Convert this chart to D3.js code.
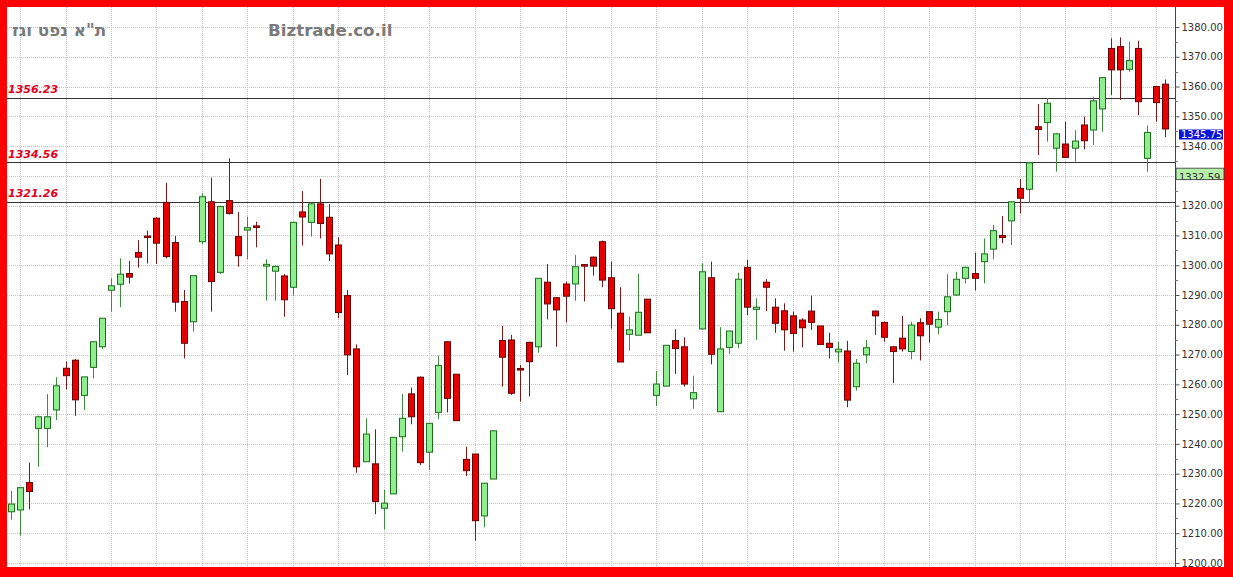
<!DOCTYPE html>
<html><head><meta charset="utf-8">
<script src="https://cdn.jsdelivr.net/npm/d3@7"></script>
<style>html,body{margin:0;padding:0;background:#fff;overflow:hidden}</style>
</head><body><svg id="c" width="1233" height="577"></svg>
<script>
const openV  = [1217.2,1217.8,1227.0,1245.2,1245.2,1251.4,1265.4,1268.1,1256.3,1265.7,1272.6,1291.6,1293.6,1297.2,1304.3,1309.8,1315.8,1321.1,1307.6,1287.8,1281.0,1307.9,1321.3,1297.6,1321.7,1309.6,1311.8,1313.2,1299.7,1298.0,1296.4,1292.6,1317.9,1314.4,1320.6,1316.1,1306.8,1289.8,1271.9,1234.0,1233.3,1218.4,1223.2,1242.4,1256.8,1262.4,1237.2,1250.6,1274.3,1263.4,1234.8,1236.6,1215.8,1228.2,1274.7,1274.9,1265.3,1274.1,1272.6,1294.3,1289.1,1293.7,1293.7,1300.2,1302.7,1307.9,1295.8,1283.9,1276.8,1276.5,1288.6,1256.3,1259.4,1274.7,1272.6,1255.1,1278.6,1295.8,1250.8,1272.4,1273.8,1299.3,1285.2,1294.3,1285.9,1284.7,1283.0,1281.6,1284.6,1279.6,1273.8,1270.9,1271.2,1259.2,1269.9,1284.6,1280.8,1272.6,1275.5,1271.0,1280.7,1284.4,1279.2,1284.4,1290.0,1295.6,1297.2,1301.2,1305.4,1310.0,1314.9,1325.8,1325.5,1346.5,1347.9,1339.3,1340.7,1339.3,1347.1,1345.4,1352.5,1372.8,1373.4,1365.8,1372.8,1335.9,1360.0,1360.8];
const highV  = [1224.2,1225.5,1233.7,1249.5,1256.7,1262.4,1267.6,1268.5,1262.5,1274.3,1282.2,1295.6,1302.3,1301.4,1308.4,1311.6,1316.0,1327.7,1309.8,1291.7,1296.5,1324.2,1329.4,1320.0,1335.9,1317.8,1316.3,1314.6,1302.0,1300.0,1297.0,1314.4,1324.9,1321.0,1329.0,1320.5,1309.4,1291.7,1273.4,1248.6,1244.9,1224.5,1242.2,1256.7,1258.9,1262.6,1247.0,1269.6,1274.5,1263.4,1239.1,1236.6,1226.8,1244.4,1279.6,1276.6,1266.5,1274.3,1295.6,1300.4,1289.3,1294.5,1303.4,1300.3,1303.0,1308.3,1301.2,1292.6,1282.7,1297.1,1288.6,1264.5,1273.1,1278.5,1275.8,1262.9,1300.6,1301.2,1279.2,1277.9,1297.5,1301.8,1288.9,1295.3,1288.9,1287.2,1284.4,1282.2,1289.8,1279.6,1277.3,1274.3,1274.6,1268.5,1274.9,1284.8,1281.0,1272.8,1283.0,1281.0,1282.2,1284.6,1284.4,1297.0,1297.8,1299.5,1304.2,1309.0,1313.5,1316.5,1321.5,1328.9,1334.6,1354.1,1356.1,1344.3,1348.2,1345.4,1349.9,1356.6,1363.2,1376.2,1376.5,1375.1,1375.4,1346.9,1360.2,1362.4];
const lowV   = [1214.5,1209.2,1218.0,1232.3,1238.9,1248.0,1258.3,1249.4,1251.4,1262.0,1271.8,1284.4,1285.9,1293.9,1299.2,1300.6,1300.4,1302.3,1284.4,1268.7,1277.7,1307.0,1284.4,1297.0,1317.0,1299.5,1302.0,1306.0,1288.1,1288.1,1282.7,1289.7,1306.6,1309.6,1309.0,1301.4,1282.2,1263.1,1230.3,1234.0,1216.4,1211.3,1223.2,1237.4,1246.6,1232.9,1231.2,1248.3,1250.6,1247.8,1229.2,1207.5,1212.0,1228.2,1259.2,1256.4,1254.2,1255.9,1270.6,1281.8,1272.6,1280.8,1288.1,1287.8,1296.5,1292.6,1278.7,1267.5,1271.3,1276.5,1277.3,1252.7,1259.4,1263.5,1259.2,1251.8,1278.5,1266.7,1250.7,1270.2,1272.1,1283.3,1274.9,1284.6,1277.3,1271.3,1271.0,1272.4,1278.3,1273.4,1268.7,1267.3,1252.3,1257.9,1267.1,1276.6,1274.3,1260.4,1271.0,1268.4,1268.0,1274.0,1276.8,1279.9,1289.7,1293.9,1291.5,1293.9,1302.0,1307.4,1306.8,1317.4,1321.1,1337.0,1341.5,1331.4,1336.0,1334.8,1338.9,1340.4,1344.8,1357.2,1355.5,1365.0,1350.4,1331.4,1348.2,1343.0];
const closeV = [1219.8,1225.3,1224.0,1249.1,1249.1,1259.5,1262.9,1254.8,1262.5,1274.3,1282.2,1293.1,1297.0,1296.0,1302.7,1309.4,1307.4,1302.9,1287.6,1273.8,1296.5,1323.0,1294.5,1319.7,1317.4,1303.2,1312.6,1312.8,1300.3,1299.6,1288.4,1314.4,1316.2,1320.6,1314.0,1303.8,1284.1,1269.9,1232.3,1243.3,1220.6,1220.1,1242.2,1248.6,1249.1,1233.7,1246.9,1266.3,1255.3,1247.8,1231.0,1214.2,1226.8,1244.4,1269.1,1257.0,1264.9,1267.6,1295.6,1287.0,1285.0,1289.6,1299.5,1299.9,1299.7,1295.0,1285.4,1267.5,1278.3,1284.2,1277.3,1260.1,1273.1,1272.0,1260.1,1257.2,1297.8,1270.1,1271.9,1277.9,1295.3,1285.9,1285.9,1292.6,1280.5,1278.3,1277.1,1279.0,1280.8,1273.4,1272.4,1271.8,1254.7,1267.1,1272.3,1283.0,1275.8,1271.0,1271.9,1279.9,1276.3,1280.2,1281.8,1289.4,1295.3,1299.3,1295.6,1303.8,1311.6,1309.3,1321.3,1322.5,1334.4,1345.6,1354.4,1344.1,1336.2,1341.7,1341.8,1355.2,1363.0,1365.6,1365.6,1368.7,1354.9,1344.6,1354.6,1345.75];
const levels = [1356.23, 1334.56, 1321.26];
const yTicks = d3.range(1200, 1381, 10);
const minorTicks = d3.range(1205, 1381, 10);
const lastPrice = 1345.75;
const secondPrice = 1332.59;
const titleText = 'ת"א נפט וגז';
const brandText = "Biztrade.co.il";

const W = 1233, H = 577;
const svg = d3.select("#c");
const PL = 7, PR = 1175, PT = 7, PB = 567;

svg.append("rect").attr("width", W).attr("height", H).attr("fill", "#ff0000");
svg.append("rect").attr("x", 7).attr("y", 7).attr("width", 1217).attr("height", 560).attr("fill", "#ffffff");

const idx = d3.range(openV.length);
const x = d3.scaleBand().domain(idx).range([6.5, 6.5 + 128 * 9.09]).padding(0);
const cx = i => x(i) + x.bandwidth() / 2;
const y = d3.scaleLinear().domain([1200, 1380]).range([563, 27]);

const defs = svg.append("defs");
defs.append("clipPath").attr("id", "plot")
  .append("rect").attr("x", PL).attr("y", PT).attr("width", PR - PL).attr("height", PB - PT);

const g = svg.append("g").attr("clip-path", "url(#plot)");

// grid
g.selectAll("line.hg").data(yTicks).join("line")
  .attr("x1", PL).attr("x2", PR)
  .attr("y1", d => Math.round(y(d)) + 0.5).attr("y2", d => Math.round(y(d)) + 0.5)
  .attr("stroke", "#c4c4c4").attr("stroke-dasharray", "1,1");
g.selectAll("line.vg").data(idx.filter(i => i % 5 === 1)).join("line")
  .attr("x1", d => Math.round(cx(d)) + 0.5).attr("x2", d => Math.round(cx(d)) + 0.5)
  .attr("y1", PT).attr("y2", PB)
  .attr("stroke", "#c4c4c4").attr("stroke-dasharray", "1,1");

// level lines
g.selectAll("line.lv").data(levels).join("line")
  .attr("x1", PL).attr("x2", PR)
  .attr("y1", d => Math.round(y(d)) + 0.5).attr("y2", d => Math.round(y(d)) + 0.5)
  .attr("stroke", "#333").attr("stroke-width", 1);
g.selectAll("text.lv").data(levels).join("text")
  .attr("x", 8).attr("y", d => y(d) - 4.5)
  .attr("font-family", "DejaVu Sans, sans-serif").attr("font-size", 11)
  .attr("font-weight", "bold").attr("font-style", "italic")
  .attr("fill", "#e0001c").text(d => d3.format(".2f")(d));

// candles
const cg = g.selectAll("g.c").data(idx).join("g");
cg.append("line")
  .attr("x1", i => Math.round(cx(i)) + 0.5).attr("x2", i => Math.round(cx(i)) + 0.5)
  .attr("y1", i => y(highV[i])).attr("y2", i => y(lowV[i]))
  .attr("stroke", i => closeV[i] >= openV[i] ? "#3c8c3c" : "#7a1a1a").attr("stroke-width", 1);
cg.append("rect")
  .attr("x", i => Math.round(cx(i)) - 3 + 0.5)
  .attr("width", 6)
  .attr("y", i => y(Math.max(openV[i], closeV[i])))
  .attr("height", i => Math.max(1.5, Math.abs(y(openV[i]) - y(closeV[i]))))
  .attr("fill", i => closeV[i] >= openV[i] ? "#90ee90" : "#e60000")
  .attr("stroke", i => closeV[i] >= openV[i] ? "#1d6e1d" : "#6a0000")
  .attr("stroke-width", 1);

// axis
const axis = d3.axisRight(y).tickValues(yTicks).tickFormat(d3.format(".2f")).tickSize(4).tickPadding(2);
const ag = svg.append("g").attr("transform", `translate(${PR + 0.5},0)`).call(axis);
ag.select(".domain").remove();
ag.selectAll("line").attr("stroke", "#555");
ag.selectAll("text").attr("font-family", "DejaVu Sans, sans-serif").attr("font-size", 10).attr("fill", "#333");
svg.append("line").attr("x1", PR + 0.5).attr("x2", PR + 0.5).attr("y1", PT).attr("y2", PB).attr("stroke", "#444");
svg.selectAll("line.mt").data(minorTicks).join("line")
  .attr("x1", PR).attr("x2", PR + 3)
  .attr("y1", d => Math.round(y(d)) + 0.5).attr("y2", d => Math.round(y(d)) + 0.5)
  .attr("stroke", "#777");

// last price label
const ly = y(lastPrice);
svg.append("rect").attr("x", PR + 4).attr("y", ly + 0.5).attr("width", 44).attr("height", 10).attr("fill", "#0a14d8");
svg.append("text").attr("x", PR + 6).attr("y", ly + 9).attr("font-family", "DejaVu Sans, sans-serif")
  .attr("font-size", 10).attr("fill", "#fff").text(d3.format(".2f")(lastPrice));

// second label (partially clipped)
const sy = y(secondPrice);
defs.append("clipPath").attr("id", "sl")
  .append("rect").attr("x", PR + 1).attr("y", sy).attr("width", 48).attr("height", 11.5);
svg.append("rect").attr("x", PR + 1).attr("y", sy).attr("width", 48).attr("height", 11.5)
  .attr("fill", "#b4f0a8").attr("stroke", "#333").attr("stroke-width", 0.8);
svg.append("text").attr("clip-path", "url(#sl)").attr("x", PR + 4).attr("y", sy + 13)
  .attr("font-family", "DejaVu Sans, sans-serif").attr("font-size", 10).attr("fill", "#333")
  .text(d3.format(".2f")(secondPrice));

// titles
svg.append("text").attr("x", 12).attr("y", 36).attr("font-family", "DejaVu Sans, sans-serif")
  .attr("font-size", 16.8).attr("font-weight", "bold").attr("fill", "#7a7a7a").text(titleText);
svg.append("text").attr("x", 268).attr("y", 36).attr("font-family", "DejaVu Sans, sans-serif")
  .attr("font-size", 16.7).attr("font-weight", "bold").attr("fill", "#7a7a7a").text(brandText);
</script></body></html>
